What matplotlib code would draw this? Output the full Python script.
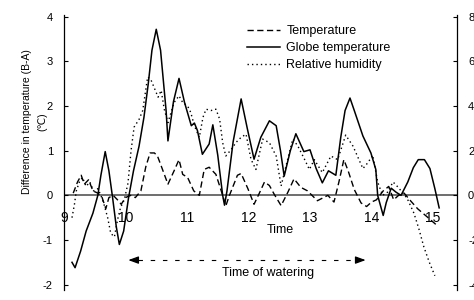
import matplotlib
matplotlib.use("Agg")
import matplotlib.pyplot as plt

plt.rcParams['font.family'] = ['Liberation Sans', 'DejaVu Sans']

# ---- data ----
# Globe temperature difference (B-A), degC, left axis
globe_t = [9.13, 9.18, 9.27, 9.36, 9.47, 9.55, 9.60, 9.67, 9.73, 9.79, 9.85, 9.90, 9.97,
           10.05, 10.13, 10.22, 10.30, 10.37, 10.43, 10.50, 10.57, 10.62, 10.66, 10.69,
           10.78, 10.87, 10.96, 11.07, 11.12, 11.17, 11.25, 11.36, 11.42, 11.50, 11.58,
           11.61, 11.65, 11.75, 11.88, 11.98, 12.09, 12.20, 12.34, 12.45, 12.52, 12.58,
           12.68, 12.77, 12.90, 13.00, 13.10, 13.20, 13.30, 13.42, 13.50, 13.57, 13.65,
           13.72, 13.86, 13.99, 14.07, 14.10, 14.19, 14.24, 14.32, 14.40, 14.48, 14.59,
           14.68, 14.76, 14.86, 14.95, 15.03, 15.10]
globe_v = [-1.50, -1.62, -1.25, -0.80, -0.40, 0.00, 0.45, 0.98, 0.55, -0.05, -0.70, -1.10, -0.80,
           -0.05, 0.55, 1.10, 1.75, 2.50, 3.25, 3.72, 3.25, 2.50, 1.90, 1.22,
           2.10, 2.62, 2.08, 1.56, 1.62, 1.45, 0.92, 1.15, 1.58, 0.90, 0.00,
           -0.22, 0.10, 1.20, 2.16, 1.50, 0.81, 1.30, 1.67, 1.56, 1.00, 0.43,
           1.00, 1.38, 0.98, 1.02, 0.60, 0.28, 0.55, 0.45, 1.30, 1.90, 2.18,
           1.90, 1.33, 0.95, 0.58, 0.00, -0.45, -0.16, 0.16, 0.07, 0.00, 0.30,
           0.62, 0.80, 0.80, 0.60, 0.15, -0.28]

# Air temperature difference (B-A), degC, left axis
temp_t = [9.15, 9.22, 9.28, 9.33, 9.40, 9.47, 9.55, 9.62, 9.68, 9.73, 9.80, 9.87, 9.93,
          10.00, 10.08, 10.16, 10.25, 10.33, 10.40, 10.47, 10.52, 10.58, 10.69, 10.80,
          10.87, 10.93, 11.01, 11.11, 11.20, 11.28, 11.36, 11.47, 11.58, 11.63, 11.69,
          11.82, 11.88, 11.99, 12.09, 12.18, 12.26, 12.34, 12.42, 12.53, 12.64, 12.74,
          12.85, 12.96, 13.12, 13.29, 13.39, 13.47, 13.55, 13.62, 13.72, 13.83, 13.92,
          14.00, 14.08, 14.19, 14.28, 14.36, 14.44, 14.53, 14.64, 14.75, 14.92, 15.07]
temp_v = [0.05, 0.30, 0.45, 0.25, 0.35, 0.10, 0.05, -0.05, -0.30, -0.05, 0.00, -0.10, -0.20,
          -0.05, 0.00, -0.05, 0.10, 0.64, 0.95, 0.95, 0.88, 0.66, 0.25, 0.58,
          0.80, 0.47, 0.40, 0.10, 0.00, 0.58, 0.63, 0.47, 0.00, -0.24, 0.00,
          0.45, 0.49, 0.15, -0.20, 0.06, 0.30, 0.22, 0.02, -0.23, 0.07, 0.37,
          0.18, 0.10, -0.12, 0.00, -0.15, 0.30, 0.80, 0.55, 0.13, -0.17, -0.25,
          -0.15, -0.10, 0.10, 0.20, -0.10, 0.00, 0.05, -0.13, -0.30, -0.50, -0.68]

# Relative humidity difference (B-A), %, right axis
rh_t = [9.13, 9.17, 9.20, 9.25, 9.30, 9.36, 9.42, 9.48, 9.55, 9.60, 9.65, 9.71, 9.76, 9.82,
        9.87, 9.92, 9.98, 10.04, 10.09, 10.14, 10.22, 10.28, 10.36, 10.41, 10.47, 10.53,
        10.58, 10.63, 10.69, 10.79, 10.87, 10.93, 11.01, 11.06, 11.12, 11.20, 11.26, 11.31,
        11.39, 11.47, 11.53, 11.58, 11.63, 11.72, 11.80, 11.88, 11.96, 12.04, 12.12, 12.23,
        12.34, 12.45, 12.53, 12.61, 12.72, 12.80, 12.91, 12.99, 13.07, 13.20, 13.34, 13.45,
        13.58, 13.70, 13.86, 13.94, 14.02, 14.10, 14.18, 14.26, 14.35, 14.42, 14.50, 14.58,
        14.69, 14.77, 14.85, 14.94, 15.03]
rh_v = [-1.0, -0.4, 0.2, 0.6, 0.8, 0.4, 0.6, 0.2, 0.3, 0.0, -0.4, -1.0, -1.7, -1.86,
        -1.1, -0.54, -0.2, 0.54, 2.0, 3.06, 3.4, 3.8, 5.3, 5.2, 4.8, 4.4,
        4.7, 3.86, 3.26, 4.16, 4.46, 4.16, 4.0, 3.72, 3.12, 2.6, 3.5, 3.86,
        3.8, 3.86, 3.42, 2.36, 1.76, 2.06, 2.38, 2.6, 2.74, 1.62, 1.16, 2.52,
        2.36, 1.76, 0.42, 1.32, 2.52, 2.22, 1.62, 1.16, 1.6, 1.02, 1.76, 1.6,
        2.7, 2.2, 1.2, 1.46, 1.8, 0.6, 0.0, 0.14, 0.6, 0.4, 0.14, -0.14,
        -0.8, -1.5, -2.3, -3.0, -3.6]

watering_start, watering_end = 10.0, 13.95
x_ticks = [9, 10, 11, 12, 13, 14, 15]
left_ticks = [-2, -1, 0, 1, 2, 3, 4]
right_ticks = [-4, -2, 0, 2, 4, 6, 8]

# ---- figure ----
W, H = 474, 300
fig = plt.figure(figsize=(W / 100, H / 100), dpi=100)
ax = fig.add_axes([64 / W, 1 - 290 / H, (457 - 64) / W, (290 - 15) / H])
ax.set_xlim(9.0, 15.39)
ax.set_ylim(-2.12, 4.04)

ax.plot(temp_t, temp_v, color='black', lw=1.0, dashes=(4.5, 2.5), label='Temperature')
ax.plot(globe_t, globe_v, color='black', lw=1.1, label='Globe temperature')
ax2 = ax.twinx()
ax2.set_ylim(-4.24, 8.08)
ax2.plot(rh_t, rh_v, color='black', lw=1.0, dashes=(1, 2.2), label='Relative humidity')

# spines
for s in ['top', 'bottom']:
    ax.spines[s].set_visible(False)
    ax2.spines[s].set_visible(False)
ax.spines['right'].set_visible(False)
ax2.spines['left'].set_visible(False)
ax.spines['left'].set_linewidth(0.9)
ax2.spines['right'].set_linewidth(0.9)
ax.axhline(0, color='#555555', lw=1.2, zorder=0)

ax.set_xticks(x_ticks)
ax.set_xticklabels([str(t) for t in x_ticks], fontsize=8.5)
ax.tick_params(axis='x', length=0, pad=11)
ax.set_yticks(left_ticks)
ax.set_yticklabels([str(t) for t in left_ticks], fontsize=8)
ax.tick_params(axis='y', direction='in', length=3, width=0.8, pad=8)
ax2.set_yticks(right_ticks)
ax2.set_yticklabels([str(t) for t in right_ticks], fontsize=8)
ax2.tick_params(axis='y', direction='in', length=3, width=0.8, pad=8)

# x labels drawn at the zero line
for lbl in ax.get_xticklabels():
    pass
ax.xaxis.set_ticks_position('bottom')
ax.spines['bottom'].set_position(('data', 0))

ax.text(12.51, -0.78, 'Time', fontsize=9, ha='center', va='center')

# watering arrow
yarr = -1.45
ax.plot([watering_start + 0.2, watering_end - 0.2], [yarr, yarr], color='black', lw=0.8,
        dashes=(4, 7))
ax.annotate('', xy=(watering_start, yarr), xytext=(watering_start + 0.22, yarr),
            arrowprops=dict(arrowstyle='-|>,head_length=0.6,head_width=0.22', color='black', lw=0.9))
ax.annotate('', xy=(watering_end, yarr), xytext=(watering_end - 0.22, yarr),
            arrowprops=dict(arrowstyle='-|>,head_length=0.6,head_width=0.22', color='black', lw=0.9))
ax.text((watering_start + watering_end) / 2 + 0.35, -1.73, 'Time of watering', fontsize=9,
        ha='center', va='center')

# y label
fig.text(27 / W, 1 - 122 / H, 'Difference in temperature (B-A)', rotation=90, fontsize=7.5,
         ha='center', va='center')
fig.text(42 / W, 1 - 122 / H, '(℃)', rotation=90, fontsize=7.5, ha='center', va='center')

# legend
h1, l1 = ax.get_legend_handles_labels()
h2, l2 = ax2.get_legend_handles_labels()
ax2.legend(h1 + h2, l1 + l2, loc='upper left', bbox_to_anchor=(247 / W, 1 - 25 / H),
           bbox_transform=fig.transFigure, frameon=False, fontsize=9, borderpad=0,
           borderaxespad=0, handlelength=2.6, handletextpad=0.55, labelspacing=0.4)

fig.savefig('out.png', dpi=100)
